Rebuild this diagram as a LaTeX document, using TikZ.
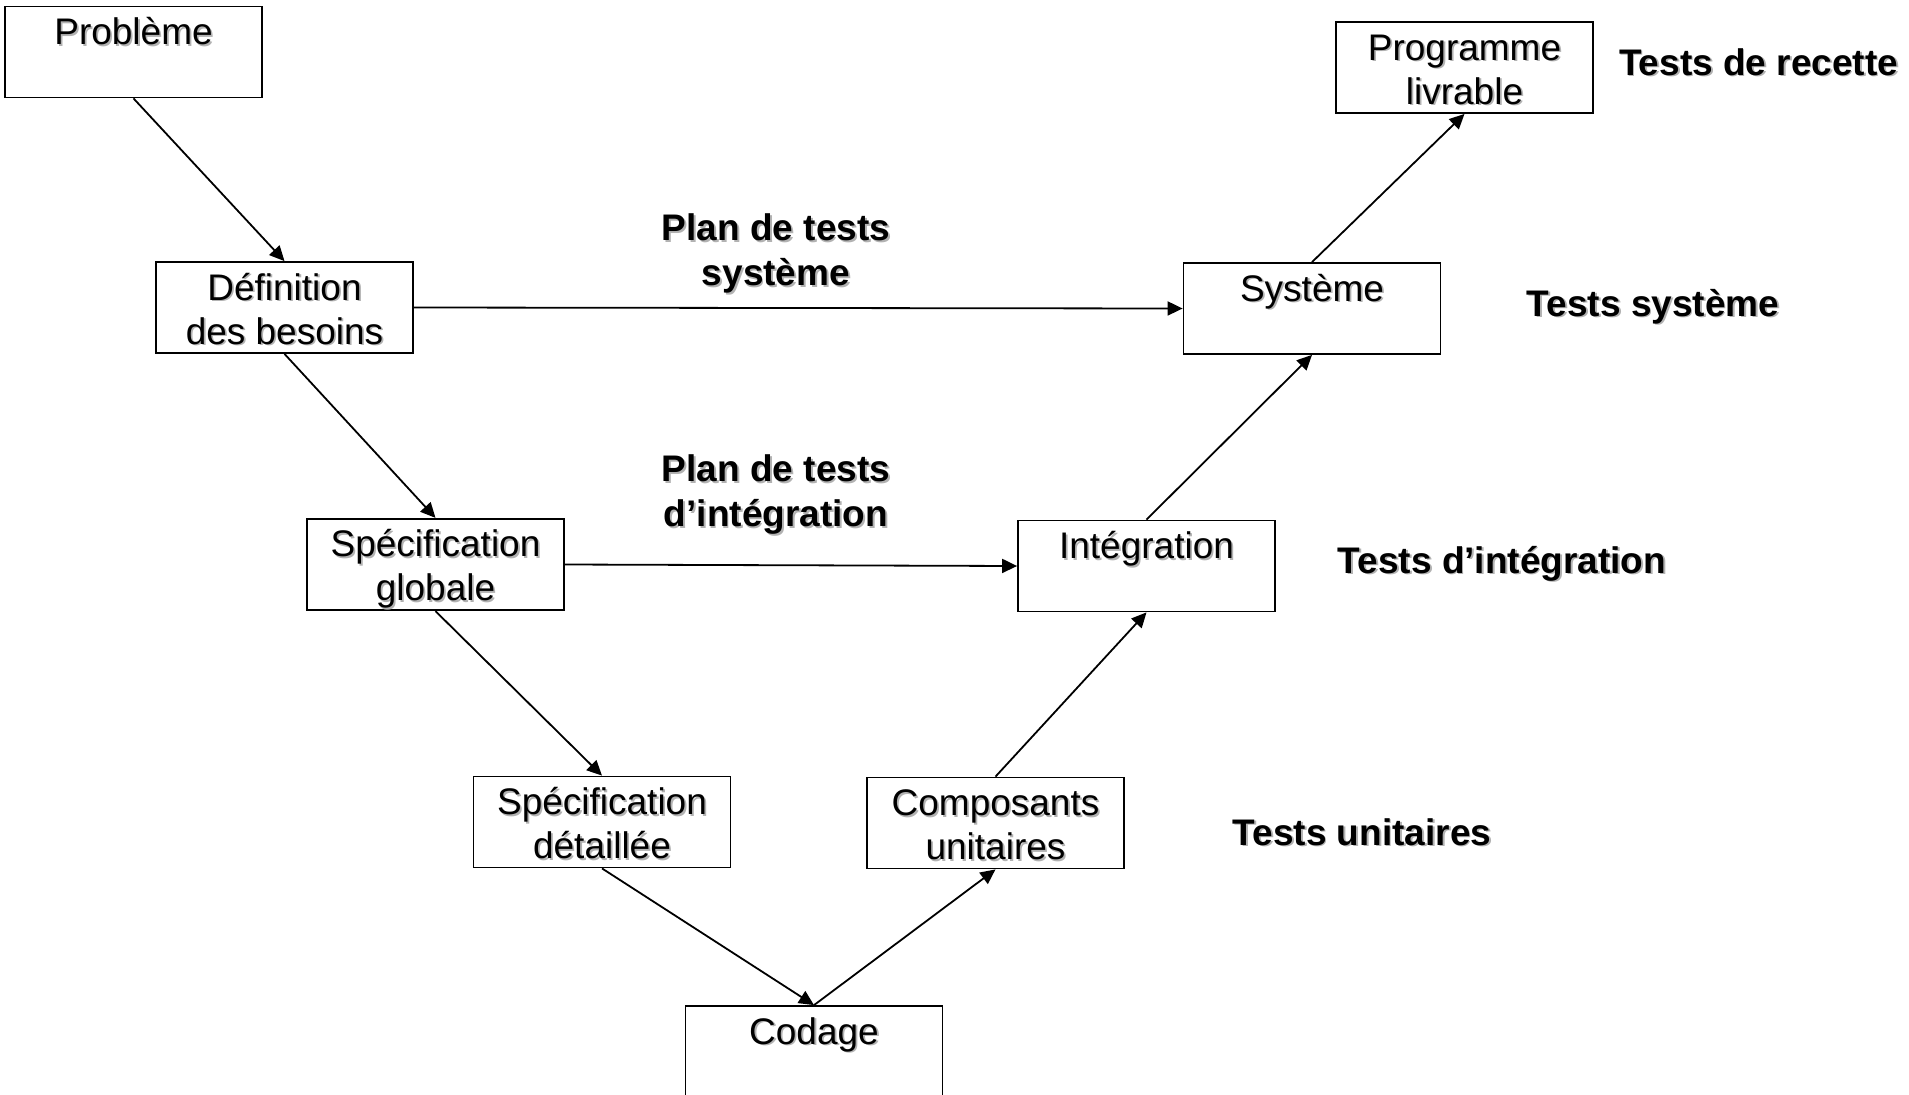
\documentclass[tikz,border=0pt]{standalone}
\usepackage{fontspec}
\setmainfont{Liberation Sans}
\usetikzlibrary{arrows.meta}

% texte avec ombre portee
\newcommand\ombre[1]{\rlap{\kern1.8pt\raisebox{-1.8pt}{\textcolor{black!30}{#1}}}#1}
% lignes des etapes et des libelles
\newcommand\haut[1]{\rule{0pt}{38pt}\ombre{#1}}
\newcommand\bas[1]{\rule[-9pt]{0pt}{9pt}\ombre{#1}}
\newcommand\lib[1]{\ombre{#1}\strut}

\begin{document}
\begin{tikzpicture}[x=1pt,y=-1pt,
  etape/.style={draw,line width=1.8pt,minimum width=257pt,minimum height=91pt,
    inner sep=0pt,align=center,font=\fontsize{37}{44}\selectfont},
  plan/.style={align=center,font=\fontsize{37}{45}\selectfont\bfseries},
  fleche/.style={line width=1.8pt,-{Triangle[length=15pt,width=14pt]}}]
\useasboundingbox (0,0) rectangle (1909,1095);

% branche descendante
\node[etape] (probleme) at (133.5,52) {\haut{Problème}\\\bas{}};
\node[etape] (besoins) at (284.5,307.5) {\haut{Définition}\\\bas{des besoins}};
\node[etape] (globale) at (435.5,564.5) {\haut{Spécification}\\\bas{globale}};
\node[etape] (detaillee) at (602,822) {\haut{Spécification}\\\bas{détaillée}};
\node[etape] (codage) at (814,1051.5) {\haut{Codage}\\\bas{}};

% branche montante
\node[etape] (composants) at (995.5,823) {\haut{Composants}\\\bas{unitaires}};
\node[etape] (integration) at (1146.5,566) {\haut{Intégration}\\\bas{}};
\node[etape] (systeme) at (1312,308.5) {\haut{Système}\\\bas{}};
\node[etape] (livrable) at (1464.5,67.5) {\haut{Programme}\\\bas{livrable}};

% plans et tests
\node[plan] (plansys) at (776,254) {\lib{Plan de tests}\\\lib{système}};
\node[plan] (planint) at (776,495) {\lib{Plan de tests}\\\lib{d’intégration}};
\node[plan] (recette) at (1758.5,66) {\lib{Tests de recette}};
\node[plan] (tsys) at (1653,307) {\lib{Tests système}};
\node[plan] (tint) at (1502,564) {\lib{Tests d’intégration}};
\node[plan] (tunit) at (1362,836) {\lib{Tests unitaires}};

\draw[fleche] (probleme.south) -- (besoins.north);
\draw[fleche] (besoins.south) -- (globale.north);
\draw[fleche] (globale.south) -- (detaillee.north);
\draw[fleche] (detaillee.south) -- (codage.north);
\draw[fleche] (codage.north) -- (composants.south);
\draw[fleche] (composants.north) -- (integration.south);
\draw[fleche] (integration.north) -- (systeme.south);
\draw[fleche] (systeme.north) -- (livrable.south);

\draw[fleche] (besoins.east) -- (systeme.west);
\draw[fleche] (globale.east) -- (integration.west);

\end{tikzpicture}
\end{document}
